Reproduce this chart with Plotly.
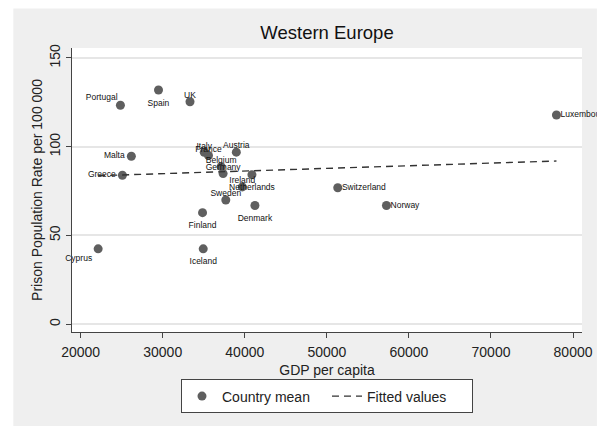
import plotly.graph_objects as go

countries = ["Portugal", "Spain", "UK", "Malta", "Greece", "Cyprus", "Italy", "France",
             "Austria", "Belgium", "Germany", "Ireland", "Netherlands", "Sweden", "Finland",
             "Denmark", "Iceland", "Switzerland", "Norway", "Luxembourg"]
gdp = [24846, 29485, 33325, 26178, 25088, 22132, 35058, 35578,
       38970, 37117, 37359, 39697, 40872, 37686, 34852,
       41236, 34937, 51328, 57262, 77977]
rate = [123.3, 131.9, 125.3, 94.6, 83.9, 42.4, 96.8, 95.0,
        96.9, 88.7, 84.8, 77.3, 84.2, 69.9, 62.8,
        66.8, 42.4, 76.8, 66.8, 117.8]
label_pos = ["top left", "bottom center", "top center", "middle left", "middle left",
             "bottom left", "top center", "top center", "top center", "top center",
             "top center", "top center", "bottom center", "top center", "bottom center",
             "bottom center", "bottom center", "middle right", "middle right", "middle right"]

fit_x = [22132, 77977]
fit_y = [83.6, 91.9]

x_ticks = [20000, 30000, 40000, 50000, 60000, 70000, 80000]
y_ticks = [0, 50, 100, 150]

# style: invisible anchor size per label position (controls label gap)
anchor_size = {"top left": 3, "top center": 1, "bottom center": 13, "bottom left": 8,
               "middle left": 9, "middle right": 5}

FONT = "Liberation Sans, Arial, sans-serif"
W, H = 605, 426
L, R, T, B = 72, 20, 48, 91
pw, ph = W - L - R, H - T - B

fig = go.Figure()
fig.add_trace(go.Scatter(
    x=gdp, y=rate, mode="markers",
    marker=dict(size=9, color="#5f5f5f"),
    name="Country mean", cliponaxis=False,
))
fig.add_trace(go.Scatter(
    x=gdp, y=rate, mode="markers+text", text=countries, textposition=label_pos,
    textfont=dict(family=FONT, size=8.5, color="#111111"),
    marker=dict(size=[anchor_size[p] for p in label_pos], opacity=0),
    showlegend=False, hoverinfo="skip", cliponaxis=False,
))
fig.add_trace(go.Scatter(
    x=fit_x, y=fit_y, mode="lines",
    line=dict(color="#333333", width=1.4, dash="7px,5px"),
    name="Fitted values",
))

def px2paper_x(p):
    return (p - L) / pw

def px2paper_y(p):
    return (H - B - p) / ph

shapes = [
    dict(type="rect", xref="paper", yref="paper", x0=px2paper_x(-5), x1=px2paper_x(13),
         y0=px2paper_y(H + 5), y1=px2paper_y(-5), fillcolor="white", line_width=0, layer="above"),
    dict(type="rect", xref="paper", yref="paper", x0=px2paper_x(600), x1=px2paper_x(W + 5),
         y0=px2paper_y(H + 5), y1=px2paper_y(-5), fillcolor="white", line_width=0, layer="above"),
    dict(type="rect", xref="paper", yref="paper", x0=px2paper_x(-5), x1=px2paper_x(W + 5),
         y0=px2paper_y(8), y1=px2paper_y(-5), fillcolor="white", line_width=0, layer="above"),
]

fig.update_layout(
    width=W, height=H,
    margin=dict(l=L, r=R, t=T, b=B),
    paper_bgcolor="#efefef", plot_bgcolor="white",
    font=dict(family=FONT, color="#222222"),
    title=dict(text="Western Europe", x=0.5, xref="paper", xanchor="center",
               y=1 - 33 / H, yanchor="middle", font=dict(size=18.5, color="#111111")),
    shapes=shapes,
    showlegend=True,
    legend=dict(orientation="h", x=0.5, xanchor="center", y=px2paper_y(383), yanchor="top",
                bgcolor="white", bordercolor="#444444", borderwidth=1,
                font=dict(size=14, color="#222222"), itemwidth=30,
                entrywidth=100, entrywidthmode="pixels"),
    xaxis=dict(range=[18946, 81090], tickvals=x_ticks, ticktext=[str(v) for v in x_ticks],
               showgrid=False, zeroline=False, showline=True, linecolor="#444444", linewidth=1,
               ticks="outside", ticklen=5, tickcolor="#444444", tickfont=dict(size=14),
               ticklabelstandoff=2,
               title=dict(text="GDP per capita", font=dict(size=14), standoff=6)),
    yaxis=dict(range=[-4.46, 155.58], tickvals=y_ticks, ticktext=[str(v) for v in y_ticks],
               tickangle=-90, showgrid=True, gridcolor="#e6e6e6", gridwidth=1.5,
               zeroline=False, showline=True, linecolor="#444444", linewidth=1,
               ticks="outside", ticklen=5, tickcolor="#444444", tickfont=dict(size=14),
               title=dict(text="Prison Population Rate per 100 000", font=dict(size=14), standoff=1)),
)

fig.write_html("out.html")
